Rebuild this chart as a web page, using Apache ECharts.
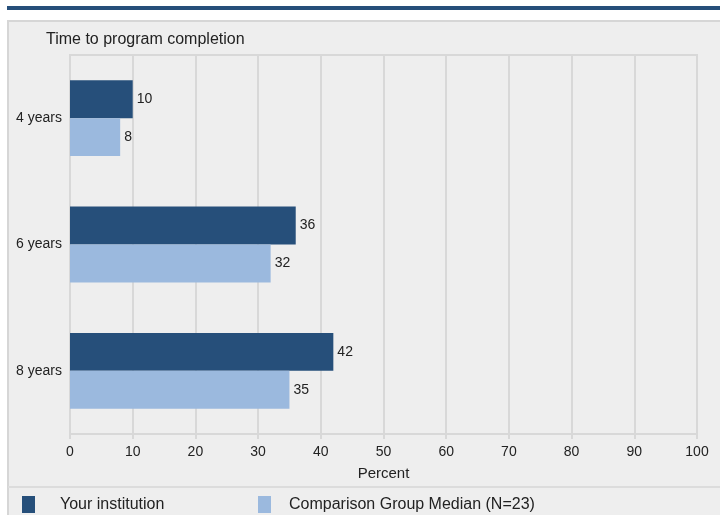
<!DOCTYPE html>
<html>
<head>
<meta charset="utf-8">
<script src="https://cdn.jsdelivr.net/npm/echarts@6/dist/echarts.min.js"></script>
<style>
  html, body { margin: 0; padding: 0; background: #fff; }
  #chart { width: 720px; height: 515px; }
</style>
</head>
<body>
<div id="chart"></div>
<script>
// data
const categories = ['4 years', '6 years', '8 years'];
const yourInstitution = [10, 36, 42];
const comparisonMedian = [8, 32, 35];
const xTicks = [0, 10, 20, 30, 40, 50, 60, 70, 80, 90, 100];

const dark = '#264f7a';
const light = '#9bb9de';
const gridCol = '#d8d8d8';
const font = 'Liberation Sans, Arial, sans-serif';

const chart = echarts.init(document.getElementById('chart'));
const opt = {
  animation: false,
  textStyle: { fontFamily: font },
  graphic: [
    // top stripe
    { type: 'rect', left: 7, top: 6, shape: { width: 713, height: 4 }, style: { fill: dark }, z: -10 },
    // grey panel
    { type: 'rect', left: 7, top: 20, shape: { width: 720, height: 500 },
      style: { fill: '#eeeeee', stroke: '#d6d6d6', lineWidth: 2 }, z: -10 },
    // divider above legend
    { type: 'rect', left: 8, top: 486, shape: { width: 712, height: 2 }, style: { fill: '#dcdcdc' }, z: -9 }
  ],
  title: {
    text: 'Time to program completion',
    left: 46, top: 32, padding: 0,
    textStyle: { fontSize: 16, fontWeight: 'normal', color: '#222', fontFamily: font }
  },
  legend: [
    {
      data: ['Your institution'], left: 22, top: 496, padding: 0,
      itemWidth: 13, itemHeight: 17, icon: 'rect',
      textStyle: { fontSize: 16, color: '#222', padding: [0, 0, 0, 20] }
    },
    {
      data: ['Comparison Group Median (N=23)'], left: 258, top: 496, padding: 0,
      itemWidth: 13, itemHeight: 17, icon: 'rect',
      textStyle: { fontSize: 16, color: '#222', padding: [0, 0, 0, 13] }
    }
  ],
  grid: {
    left: 70, right: 23, top: 55, bottom: 81,
    show: true, borderColor: gridCol, borderWidth: 2, backgroundColor: 'transparent'
  },
  xAxis: {
    type: 'value', min: 0, max: 100, interval: 10,
    name: 'Percent', nameLocation: 'middle', nameGap: 32,
    nameTextStyle: { fontSize: 15, color: '#222' },
    axisLine: { show: true, lineStyle: { color: gridCol, width: 2 } },
    axisTick: { show: true, length: 5, lineStyle: { color: gridCol, width: 2 } },
    axisLabel: {
      fontSize: 14, color: '#222', margin: 11,
      formatter: v => xTicks.includes(v) ? String(v) : ''
    },
    splitLine: { show: true, lineStyle: { color: gridCol, width: 2 } }
  },
  yAxis: {
    type: 'category', data: categories, inverse: true,
    axisLine: { show: false }, axisTick: { show: false },
    axisLabel: { fontSize: 14, color: '#222', margin: 8 }
  },
  series: [
    {
      name: 'Your institution', type: 'bar', data: yourInstitution,
      itemStyle: { color: dark }, barGap: '0%', barCategoryGap: '40%',
      label: { show: true, position: 'right', distance: 4, fontSize: 14, color: '#222' }
    },
    {
      name: 'Comparison Group Median (N=23)', type: 'bar', data: comparisonMedian,
      itemStyle: { color: light }, barGap: '0%', barCategoryGap: '40%',
      label: { show: true, position: 'right', distance: 4, fontSize: 14, color: '#222' }
    }
  ]
};
chart.setOption(opt);
</script>
</body>
</html>
